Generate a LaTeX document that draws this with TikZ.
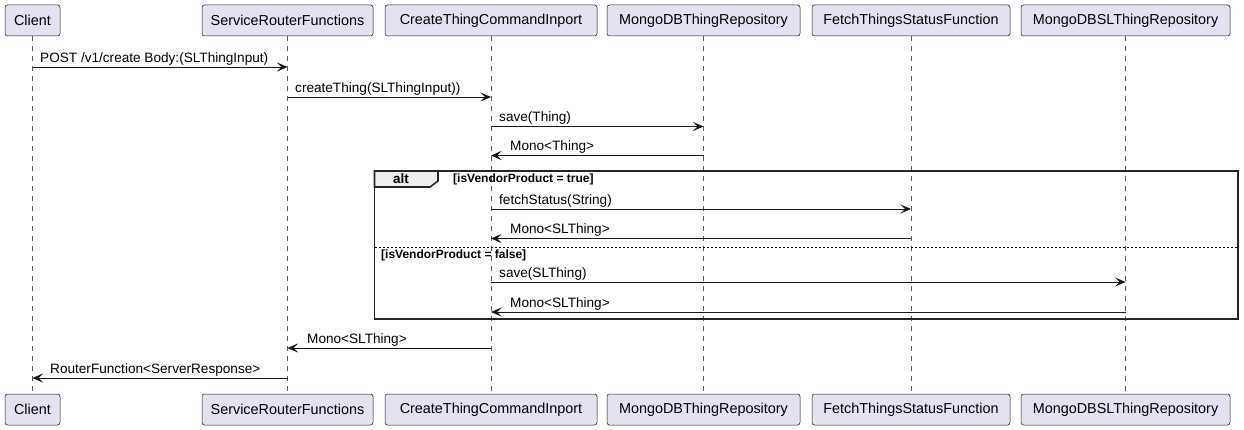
\documentclass[tikz,border=0pt]{standalone}
\usepackage{fontspec}
\setmainfont{Liberation Sans}
\usetikzlibrary{arrows.meta}
\definecolor{pfill}{HTML}{E2E2F0}
\definecolor{pline}{HTML}{181818}
\definecolor{tabfill}{HTML}{EEEEEE}
\begin{document}
\begin{tikzpicture}[x=1pt,y=-1pt,
  part/.style={draw=pline,line width=0.5pt,fill=pfill,rounded corners=2.5pt,
    minimum height=31pt,inner sep=0pt,font=\fontsize{14.4}{16}\selectfont},
  lifeline/.style={draw=pline!70,line width=0.5pt,dash pattern=on 5pt off 5pt},
  msg/.style={draw=pline,line width=0.9pt,-{Stealth[length=10.5pt,width=9pt,inset=4.5pt]}},
  mlabel/.style={anchor=base west,inner sep=0pt,font=\fontsize{13.6}{15}\selectfont},
  glabel/.style={anchor=base west,inner sep=0pt,font=\fontsize{12}{14}\selectfont\bfseries},
  frameline/.style={draw=black!85,line width=1.6pt}]
\useasboundingbox (0,0) rectangle (1244,430);
% participants top
\node[part,minimum width=55pt]  (c1) at (32.5,20.5) {Client};
\node[part,minimum width=171pt] (s1) at (287.5,20.5) {ServiceRouterFunctions};
\node[part,minimum width=212pt] (k1) at (491,20.5) {CreateThingCommandInport};
\node[part,minimum width=193pt] (m1) at (703.5,20.5) {MongoDBThingRepository};
\node[part,minimum width=198pt] (f1) at (911,20.5) {FetchThingsStatusFunction};
\node[part,minimum width=209pt] (l1) at (1125.5,20.5) {MongoDBSLThingRepository};
% participants bottom
\node[part,minimum width=55pt]  (c2) at (32.5,409.5) {Client};
\node[part,minimum width=171pt] (s2) at (287.5,409.5) {ServiceRouterFunctions};
\node[part,minimum width=212pt] (k2) at (491,409.5) {CreateThingCommandInport};
\node[part,minimum width=193pt] (m2) at (703.5,409.5) {MongoDBThingRepository};
\node[part,minimum width=198pt] (f2) at (911,409.5) {FetchThingsStatusFunction};
\node[part,minimum width=209pt] (l2) at (1125.5,409.5) {MongoDBSLThingRepository};
% lifelines
\foreach \a in {c,s,k,m,f,l}{
  \draw[lifeline] (\a1.south) -- (\a2.north);
}
% alt frame
\coordinate (fa) at (374.5,171);
\coordinate (fb) at (1238,319);
\draw[frameline] (fa) rectangle (fb);
\filldraw[frameline,fill=tabfill] (374.5,171) -- (438,171) -- (438,181) -- (430,187) -- (374.5,187) -- cycle;
\node[anchor=base,inner sep=0pt,font=\fontsize{13.5}{15}\selectfont\bfseries] (alt) at (401,183.5) {alt};
\node[glabel] (g1) at (453,183) {[isVendorProduct = true]};
\draw[draw=black,line width=0.8pt,dash pattern=on 2pt off 2pt] (374.5,247) -- (1238,247);
\node[glabel] (g2) at (381,258.5) {[isVendorProduct = false]};
% messages
\draw[msg] (c1 |- 0,67) -- (s1 |- 0,67);
\node[mlabel] at (40,62.5) {POST /v1/create Body:(SLThingInput)};
\draw[msg] (s1 |- 0,97) -- (k1 |- 0,97);
\node[mlabel] at (295,92.5) {createThing(SLThingInput))};
\draw[msg] (k1 |- 0,126.5) -- (m1 |- 0,126.5);
\node[mlabel] at (499,122) {save(Thing)};
\draw[msg] (m1 |- 0,155.5) -- (k1 |- 0,155.5);
\node[mlabel] at (510,151) {Mono<Thing>};
\draw[msg] (k1 |- 0,209) -- (f1 |- 0,209);
\node[mlabel] at (499,204.5) {fetchStatus(String)};
\draw[msg] (f1 |- 0,238.5) -- (k1 |- 0,238.5);
\node[mlabel] at (510,234) {Mono<SLThing>};
\draw[msg] (k1 |- 0,282) -- (l1 |- 0,282);
\node[mlabel] at (499,277.5) {save(SLThing)};
\draw[msg] (l1 |- 0,312) -- (k1 |- 0,312);
\node[mlabel] at (510,307.5) {Mono<SLThing>};
\draw[msg] (k1 |- 0,348) -- (s1 |- 0,348);
\node[mlabel] at (307,343.5) {Mono<SLThing>};
\draw[msg] (s1 |- 0,378) -- (c1 |- 0,378);
\node[mlabel] at (50,373.5) {RouterFunction<ServerResponse>};
\end{tikzpicture}
\end{document}
